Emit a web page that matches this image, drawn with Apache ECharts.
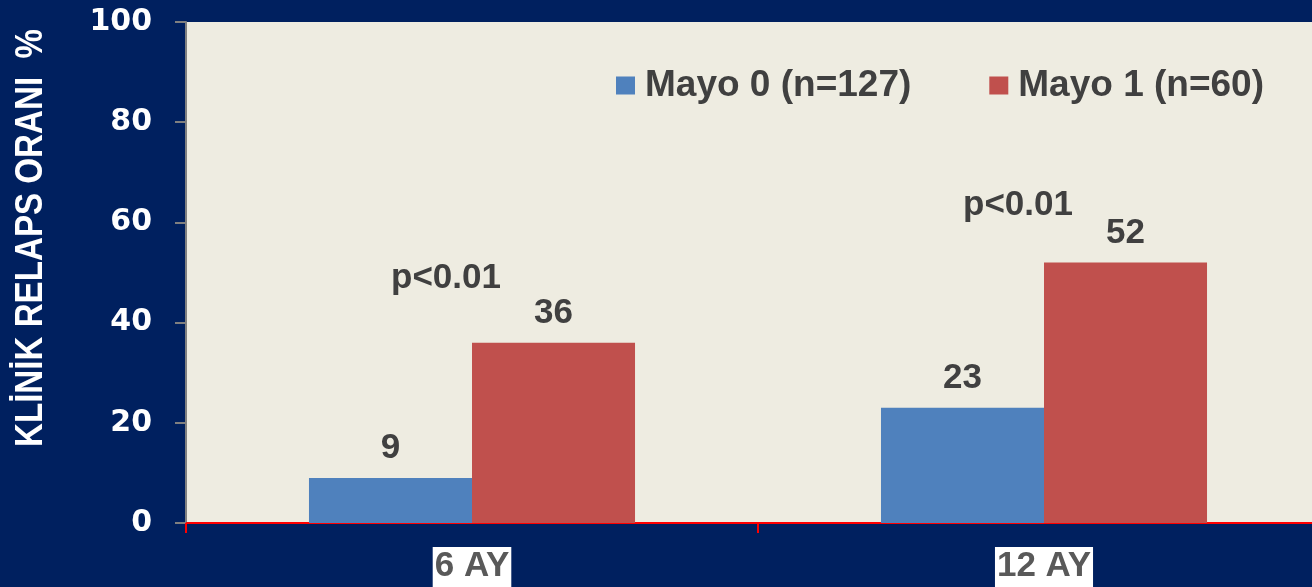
<!DOCTYPE html>
<html>
<head>
<meta charset="utf-8">
<title>Klinik relaps oranı</title>
<script src="https://cdn.jsdelivr.net/npm/echarts@6/dist/echarts.min.js"></script>
<style>
  html, body { margin: 0; padding: 0; background: #00205F; }
  #chart { width: 1312px; height: 587px; }
</style>
</head>
<body>
<div id="chart"></div>
<script>
// Follow-up periods on the x axis
const categories = ['6 AY', '12 AY'];
// Series names shown in the legend
const seriesNames = ['Mayo 0 (n=127)', 'Mayo 1 (n=60)'];
// Clinical relapse rates (%)
const mayo0 = [9, 23];
const mayo1 = [36, 52];
// Significance notes above each group, with the level they sit at
const pTexts = ['p<0.01', 'p<0.01'];
const pLevels = [48.9, 63.5];
// Y axis ticks
const yTicks = [0, 20, 40, 60, 80, 100];
const yTitle = 'KLİNİK RELAPS ORANI  %';

const BLUE = '#4F81BD';
const RED = '#C0504D';
const TEXT = '#404040';
const ARIAL = "'Liberation Sans', Arial, sans-serif";

const chart = echarts.init(document.getElementById('chart'), null, { renderer: 'canvas' });

const valueLabel = {
  show: true,
  position: 'top',
  distance: 12,
  color: TEXT,
  fontFamily: ARIAL,
  fontWeight: 'bold',
  fontSize: 35
};

chart.setOption({
  backgroundColor: '#00205F',
  animation: false,
  grid: {
    left: 186, right: -18, top: 22, bottom: 64,
    outerBoundsMode: 'none',
    containLabel: false,
    show: true, backgroundColor: '#EEECE1', borderWidth: 0
  },
  legend: {
    data: seriesNames,
    left: 616, top: 67,
    padding: 0,
    icon: 'rect',
    itemWidth: 19, itemHeight: 18,
    itemGap: 78,
    textStyle: {
      color: TEXT, fontFamily: ARIAL, fontWeight: 'bold', fontSize: 37,
      padding: [0, 0, 0, 5]
    }
  },
  graphic: [{
    type: 'text',
    x: 31, y: 238,
    rotation: Math.PI / 2,
    scaleX: 0.85,
    style: {
      text: yTitle,
      fill: '#FFFFFF',
      font: "bold 39px 'Liberation Sans', Arial, sans-serif",
      align: 'center',
      verticalAlign: 'middle'
    }
  }],
  xAxis: {
    type: 'category',
    data: categories,
    axisLine: { show: true, lineStyle: { color: '#FF0000', width: 2 } },
    axisTick: { show: true, length: 10, lineStyle: { color: '#FF0000', width: 2 } },
    axisLabel: {
      margin: 24,
      color: '#595959',
      fontFamily: ARIAL,
      fontWeight: 'bold',
      fontSize: 35,
      backgroundColor: '#FFFFFF',
      padding: [2, 2, 10, 2]
    },
    splitLine: { show: false }
  },
  yAxis: {
    type: 'value',
    min: yTicks[0],
    max: yTicks[yTicks.length - 1],
    interval: yTicks[1] - yTicks[0],
    axisLine: { show: true, lineStyle: { color: '#808080', width: 2 } },
    axisTick: { show: true, length: 11, lineStyle: { color: '#808080', width: 2 } },
    axisLabel: {
      margin: 34,
      color: '#FFFFFF',
      fontFamily: "'DejaVu Sans', sans-serif",
      fontWeight: 'bold',
      fontSize: 30
    },
    splitLine: { show: false }
  },
  series: [
    {
      name: seriesNames[0],
      type: 'bar',
      data: mayo0,
      barWidth: '28.5%',
      barGap: '0%',
      itemStyle: { color: BLUE },
      label: valueLabel
    },
    {
      name: seriesNames[1],
      type: 'bar',
      data: mayo1,
      barWidth: '28.5%',
      barGap: '0%',
      itemStyle: { color: RED },
      label: valueLabel
    },
    {
      name: 'p',
      type: 'scatter',
      data: pLevels.map((v, i) => ({ value: [i, v], label: { formatter: pTexts[i] } })),
      symbolSize: 1,
      itemStyle: { color: 'rgba(0,0,0,0)', opacity: 1 },
      silent: true,
      label: {
        show: true,
        position: 'inside',
        offset: [-26, 0],
        color: TEXT,
        fontFamily: ARIAL,
        fontWeight: 'bold',
        fontSize: 35
      }
    }
  ]
});
</script>
</body>
</html>
